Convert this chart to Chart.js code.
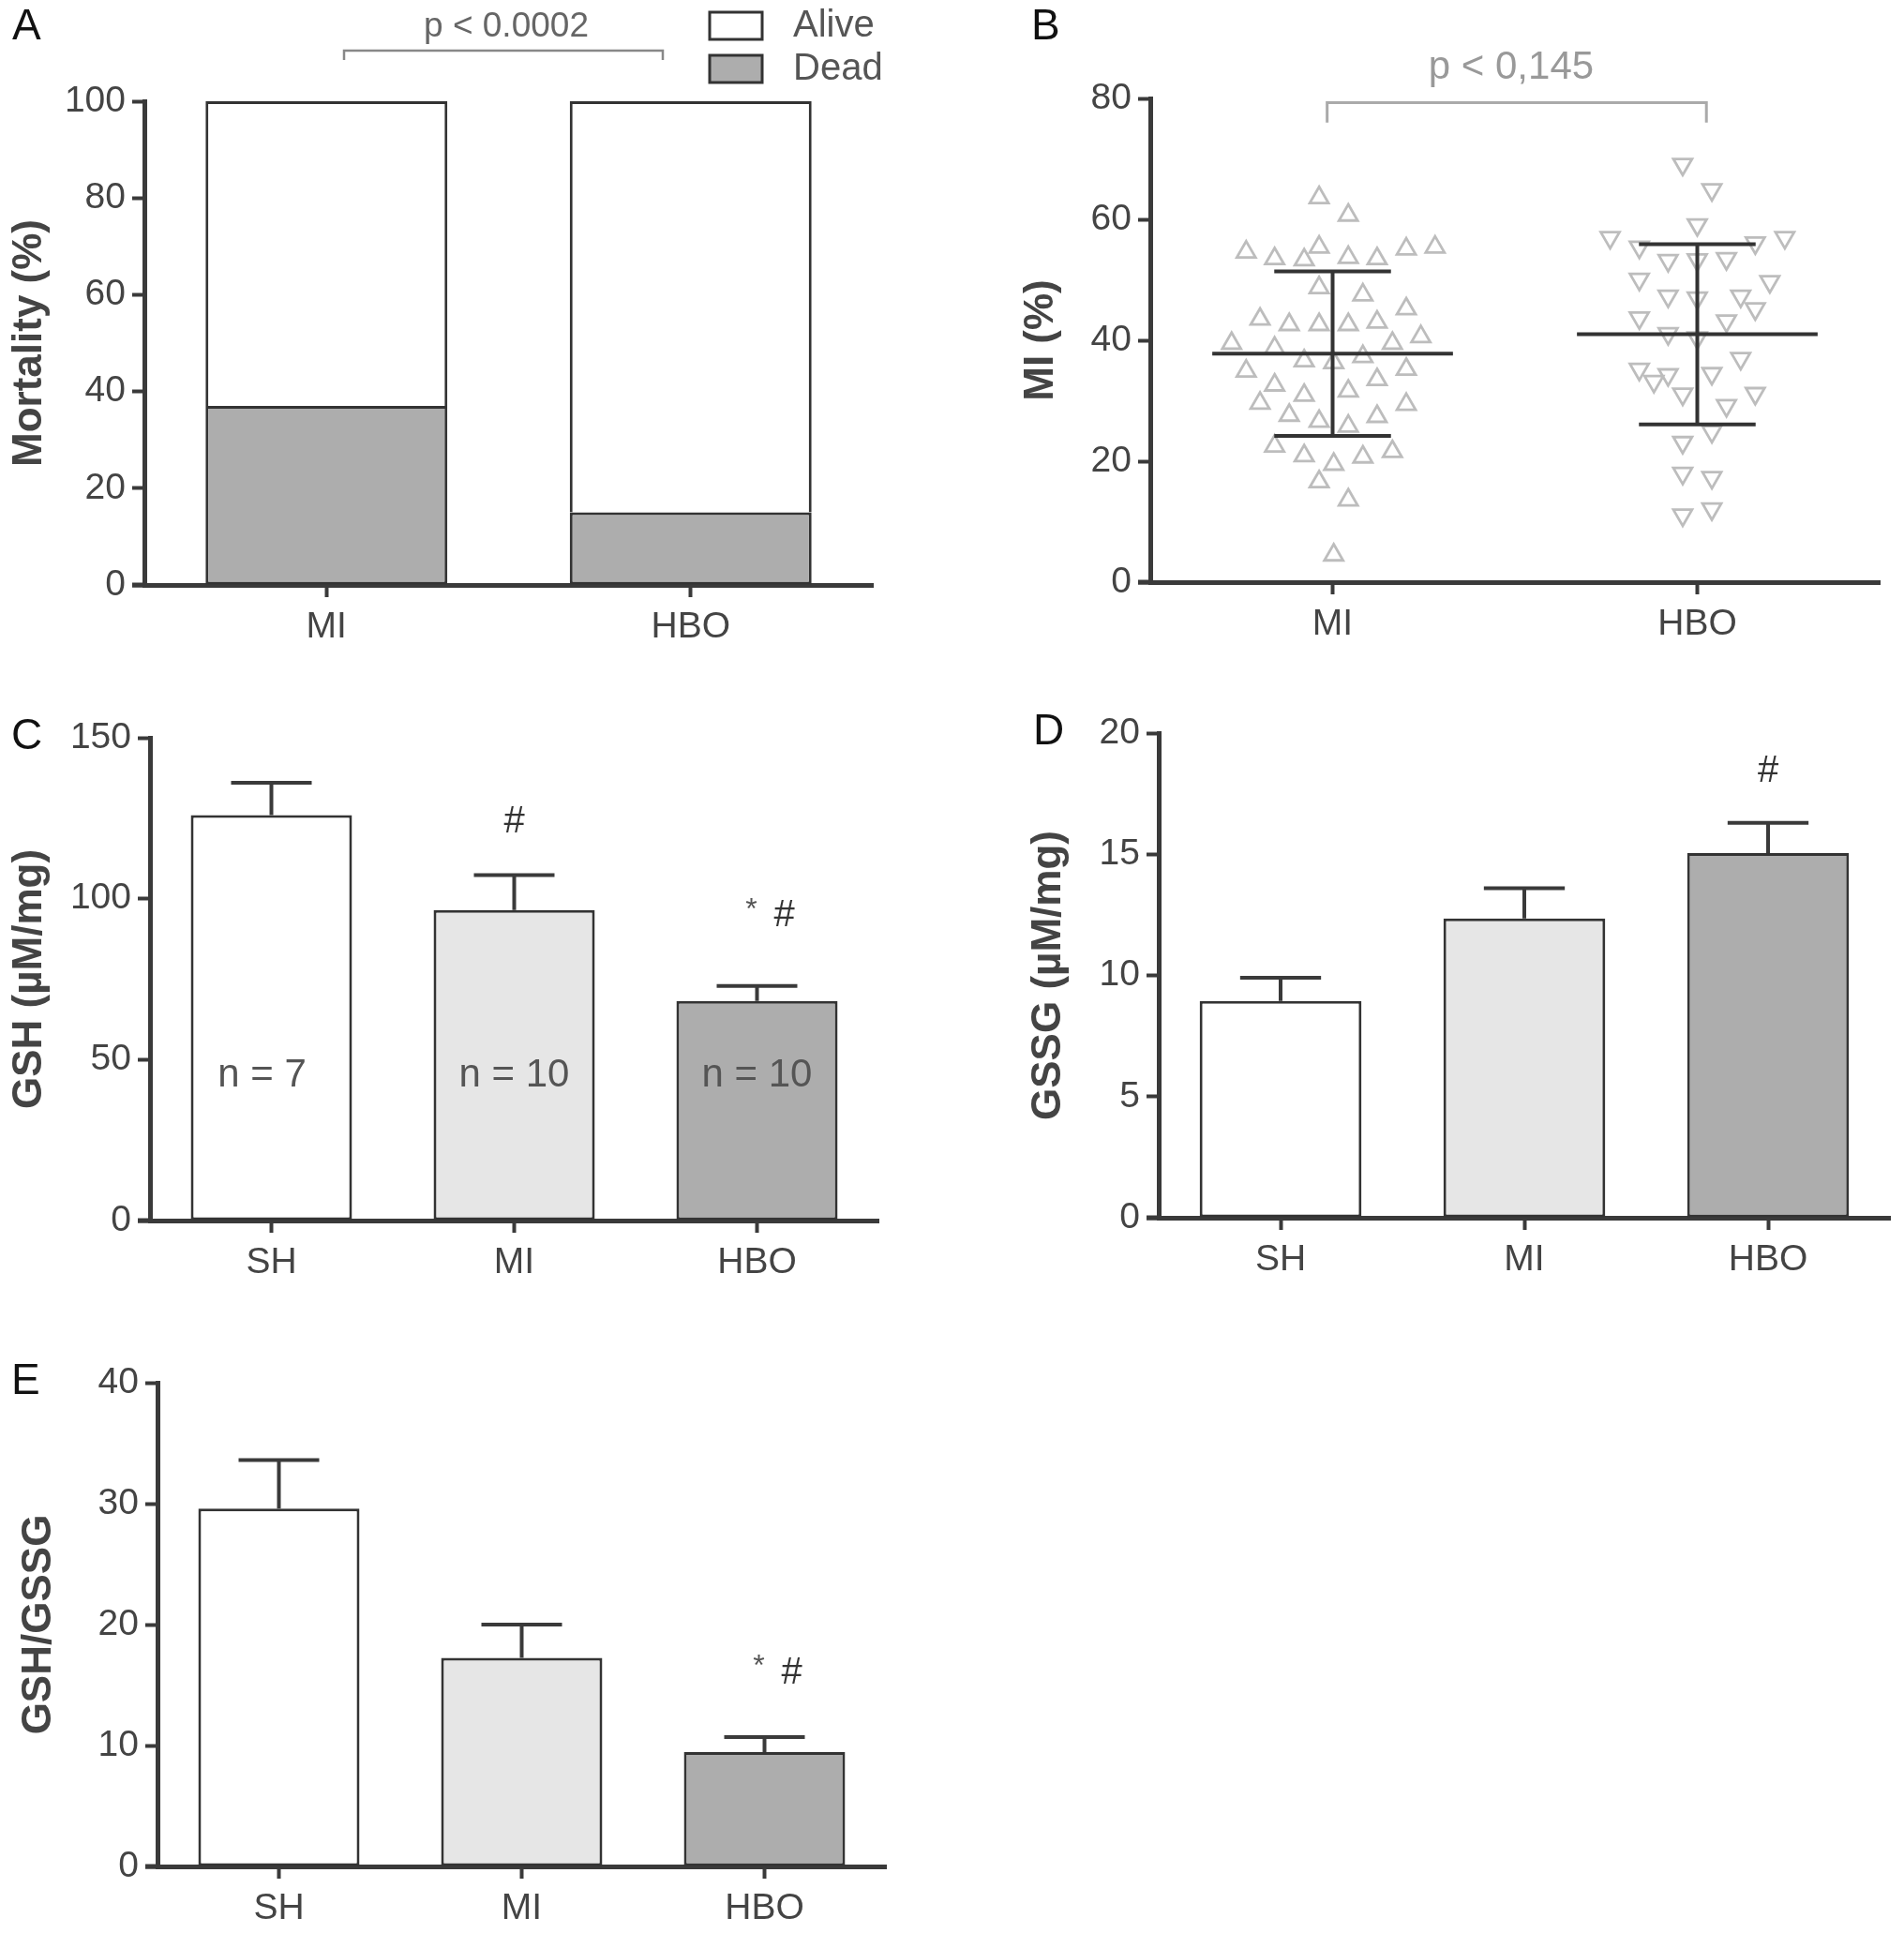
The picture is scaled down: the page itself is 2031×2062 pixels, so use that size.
<!DOCTYPE html>
<html>
<head>
<meta charset="utf-8">
<script src="https://cdn.jsdelivr.net/npm/chart.js@4.4.1/dist/chart.umd.min.js"></script>
<style>
  body { margin: 0; background: #fff; width: 2031px; height: 2062px; position: relative; overflow: hidden; }
  canvas { position: absolute; }
</style>
</head>
<body>
<canvas id="cA"></canvas>
<canvas id="cB"></canvas>
<canvas id="cC"></canvas>
<canvas id="cD"></canvas>
<canvas id="cE"></canvas>
<script>
// ---- A: mortality ----
const mortGroups = ['MI', 'HBO'];
const deadPct = [37, 15];
const alivePct = [63, 85];

// ---- B: infarct size per animal (x = group index + jitter) ----
const infarctGroups = ['MI', 'HBO'];
const miX = [0.963, 1.043, 0.763, 0.841, 0.922, 0.963, 1.043, 1.122, 1.202, 1.281,
             0.963, 1.083, 1.202, 0.801, 0.881, 0.963, 1.043, 1.122, 0.723, 0.841,
             1.164, 1.242, 0.922, 1.003, 1.083, 0.763, 1.202, 0.841, 1.043, 1.122,
             0.922, 0.801, 1.202, 0.881, 0.963, 1.043, 1.122, 0.841, 0.922, 1.003,
             1.083, 1.164, 0.963, 1.043, 1.003];
const miY = [63.6, 60.7, 54.6, 53.5, 53.3, 55.4, 53.7, 53.5, 55.1, 55.4,
             48.7, 47.5, 45.2, 43.5, 42.6, 42.6, 42.6, 43.0, 39.5, 38.7,
             39.5, 40.6, 36.6, 36.3, 37.3, 34.9, 35.2, 32.6, 31.6, 33.5,
             30.9, 29.6, 29.4, 27.6, 26.6, 25.8, 27.4, 22.5, 20.9, 19.5,
             20.7, 21.6, 16.6, 13.6, 4.5];
const hboX = [1.960, 2.040, 2.000, 1.761, 1.841, 2.159, 2.240, 1.920, 2.000, 2.080,
              1.841, 2.199, 1.920, 2.000, 2.119, 2.159, 1.841, 2.080, 1.920, 2.000,
              2.119, 1.841, 1.920, 1.881, 2.040, 1.960, 2.159, 2.080, 2.040, 1.960,
              1.960, 2.040, 1.960, 2.040];
const hboY = [69.1, 64.9, 59.1, 57.0, 55.4, 56.1, 57.0, 53.2, 53.3, 53.5,
              50.1, 49.7, 47.3, 47.0, 47.3, 45.2, 43.7, 43.2, 41.1, 40.4,
              37.0, 35.2, 34.3, 33.2, 34.5, 31.1, 31.2, 29.2, 24.9, 23.1,
              18.0, 17.3, 11.1, 12.1];
const infarctMean = [37.8, 41.0];
const infarctSD = [13.6, 14.9];

// ---- C-E: glutathione ----
const groups = ['SH', 'MI', 'HBO'];
const groupN = [7, 10, 10];
const gshMean = [126, 96.5, 68.2];
const gshErr = [10, 10.8, 4.7];
const gssgMean = [8.95, 12.35, 15.05];
const gssgErr = [0.95, 1.25, 1.25];
const ratioMean = [29.6, 17.25, 9.45];
const ratioErr = [4.0, 2.75, 1.25];

const FONT = '"Liberation Sans", Arial, Helvetica, sans-serif';
const AXIS = '#3a3a3a';
const TXT = '#444';
const FILLS = ['#ffffff', '#e6e6e6', '#adadad'];
const XH = 70;

Chart.defaults.font.family = FONT;
Chart.defaults.animation = false;

// place canvas and work out padding so the plot area lands where it does in the figure
function setup(id, box, area, titleX) {
  const cv = document.getElementById(id);
  cv.width = box.w; cv.height = box.h;
  cv.style.left = box.x + 'px'; cv.style.top = box.y + 'px';
  cv.style.width = box.w + 'px'; cv.style.height = box.h + 'px';
  const padL = titleX - box.x - 22;
  return {
    ctx: cv,
    padding: { left: padL, top: area.t - box.y, right: box.x + box.w - area.r, bottom: box.y + box.h - area.b - XH },
    yw: area.l - box.x - padL
  };
}

function yAxis(min, max, step, title, yw) {
  return {
    min: min, max: max,
    border: { display: true, color: AXIS, width: 5 },
    grid: { drawOnChartArea: false, drawTicks: true, tickLength: 13, tickWidth: 4, tickColor: AXIS },
    ticks: { stepSize: step, color: TXT, font: { size: 39 }, padding: 7 },
    title: { display: true, text: title, color: TXT, font: { size: 44, weight: 'bold', lineHeight: 1 }, padding: 0 },
    afterFit: s => { s.width = yw; }
  };
}

function xAxis(extra) {
  return Object.assign({
    border: { display: true, color: AXIS, width: 5 },
    grid: { offset: false, drawOnChartArea: false, drawTicks: true, tickLength: 13, tickWidth: 4, tickColor: AXIS },
    ticks: { color: TXT, font: { size: 39 }, padding: 9 },
    afterFit: s => { s.height = XH; }
  }, extra || {});
}

function decor(fn) {
  return { id: 'decor', afterDraw: chart => { const c = chart.ctx; c.save(); fn(chart, c); c.restore(); } };
}

function text(c, s, x, y, size, color, align, weight) {
  c.font = (weight || 'normal') + ' ' + size + 'px ' + FONT;
  c.fillStyle = color;
  c.textAlign = align || 'center';
  c.textBaseline = 'middle';
  c.fillText(s, x, y);
}

function overhang(chart, c) {
  const a = chart.chartArea;
  c.strokeStyle = AXIS; c.lineWidth = 5;
  c.beginPath(); c.moveTo(a.left - 13, a.bottom); c.lineTo(a.left, a.bottom); c.stroke();
}

function errBars(chart, c, means, errs) {
  const y = chart.scales.y;
  c.strokeStyle = AXIS; c.lineWidth = 4;
  chart.getDatasetMeta(0).data.forEach((bar, i) => {
    const top = y.getPixelForValue(means[i] + errs[i]);
    const half = bar.width * 0.25;
    c.beginPath();
    c.moveTo(bar.x, bar.y); c.lineTo(bar.x, top);
    c.moveTo(bar.x - half, top); c.lineTo(bar.x + half, top);
    c.stroke();
  });
}

function starHash(c, bar, y) {
  text(c, '*', bar.x - 6, y - 6, 32, '#555');
  text(c, '#', bar.x + 29, y, 40, '#333');
}

// ---------- A ----------
const fA = setup('cA', { x: 0, y: 0, w: 1000, h: 700 }, { l: 154, t: 108, r: 931, b: 624 }, 32);
new Chart(fA.ctx, {
  type: 'bar',
  data: {
    labels: mortGroups,
    datasets: [
      { label: 'Dead', data: deadPct, backgroundColor: FILLS[2], borderSkipped: false },
      { label: 'Alive', data: alivePct, backgroundColor: FILLS[0], borderSkipped: 'start' }
    ]
  },
  options: {
    responsive: false,
    layout: { padding: fA.padding },
    datasets: { bar: { borderColor: '#333', borderWidth: 3, categoryPercentage: 1, barPercentage: 0.664 } },
    plugins: { legend: { display: false }, tooltip: { enabled: false } },
    scales: {
      x: xAxis({ stacked: true }),
      y: Object.assign(yAxis(0, 100, 20, 'Mortality (%)', fA.yw), { stacked: true })
    }
  },
  plugins: [decor((chart, c) => {
    overhang(chart, c);
    text(c, 'A', 13, 29, 46, '#111', 'left');
    // legend
    const ds = chart.data.datasets;
    [ds[1], ds[0]].forEach((d, i) => {
      const top = 13 + i * 46;
      c.fillStyle = d.backgroundColor; c.strokeStyle = '#333'; c.lineWidth = 3;
      c.fillRect(757, top, 56, 29); c.strokeRect(757, top, 56, 29);
      text(c, d.label, 846, top + 15, 40, '#555', 'left');
    });
    // significance bracket
    c.strokeStyle = '#888'; c.lineWidth = 2.5;
    c.beginPath(); c.moveTo(367, 64); c.lineTo(367, 54); c.lineTo(707, 54); c.lineTo(707, 64); c.stroke();
    text(c, 'p < 0.0002', 540, 29, 37, '#666');
  })]
});

// ---------- B ----------
const fB = setup('cB', { x: 1090, y: 0, w: 941, h: 700 }, { l: 1227, t: 105, r: 2005, b: 621 }, 1111);
const pts = (xs, ys) => xs.map((x, i) => ({ x: x, y: ys[i] }));
new Chart(fB.ctx, {
  type: 'scatter',
  data: {
    datasets: [
      { label: 'MI', data: pts(miX, miY), pointStyle: 'triangle', pointRotation: 0 },
      { label: 'HBO', data: pts(hboX, hboY), pointStyle: 'triangle', pointRotation: 180 }
    ]
  },
  options: {
    responsive: false,
    layout: { padding: fB.padding },
    datasets: { scatter: { pointRadius: 11.5, pointBorderWidth: 2.8, pointBorderColor: '#bdbdbd', pointBackgroundColor: 'rgba(255,255,255,0)' } },
    plugins: { legend: { display: false }, tooltip: { enabled: false } },
    scales: {
      x: xAxis({
        type: 'linear', min: 0.5, max: 2.5,
        afterBuildTicks: s => { s.ticks = infarctGroups.map((g, i) => ({ value: i + 1 })); },
        ticks: { color: TXT, font: { size: 39 }, padding: 9, callback: v => infarctGroups[v - 1] }
      }),
      y: yAxis(0, 80, 20, 'MI (%)', fB.yw)
    }
  },
  plugins: [decor((chart, c) => {
    overhang(chart, c);
    text(c, 'B', 10, 29, 46, '#111', 'left');
    const xs = chart.scales.x, ys = chart.scales.y;
    c.strokeStyle = '#333'; c.lineWidth = 4;
    infarctMean.forEach((m, i) => {
      const g = i + 1, sd = infarctSD[i];
      c.beginPath();
      c.moveTo(xs.getPixelForValue(g - 0.33), ys.getPixelForValue(m));
      c.lineTo(xs.getPixelForValue(g + 0.33), ys.getPixelForValue(m));
      c.moveTo(xs.getPixelForValue(g), ys.getPixelForValue(m - sd));
      c.lineTo(xs.getPixelForValue(g), ys.getPixelForValue(m + sd));
      [m - sd, m + sd].forEach(v => {
        c.moveTo(xs.getPixelForValue(g - 0.16), ys.getPixelForValue(v));
        c.lineTo(xs.getPixelForValue(g + 0.16), ys.getPixelForValue(v));
      });
      c.stroke();
    });
    c.strokeStyle = '#aaa'; c.lineWidth = 3;
    const bx1 = xs.getPixelForValue(0.985), bx2 = xs.getPixelForValue(2.025);
    const by1 = ys.getPixelForValue(79.3), by2 = ys.getPixelForValue(76);
    c.beginPath(); c.moveTo(bx1, by2); c.lineTo(bx1, by1); c.lineTo(bx2, by1); c.lineTo(bx2, by2); c.stroke();
    text(c, 'p < 0,145', (bx1 + bx2) / 2 - 6, 72, 42, '#999');
  })]
});

// ---------- C, D, E ----------
function barPanel(id, box, area, titleX, letter, means, errs, yMax, step, title, marks) {
  const f = setup(id, box, area, titleX);
  new Chart(f.ctx, {
    type: 'bar',
    data: { labels: groups, datasets: [{ data: means, backgroundColor: FILLS }] },
    options: {
      responsive: false,
      layout: { padding: f.padding },
      datasets: { bar: { borderColor: '#333', borderWidth: 3, borderSkipped: false, categoryPercentage: 1, barPercentage: 0.664 } },
      plugins: { legend: { display: false }, tooltip: { enabled: false } },
      scales: { x: xAxis(), y: yAxis(0, yMax, step, title, f.yw) }
    },
    plugins: [decor((chart, c) => {
      overhang(chart, c);
      text(c, letter, 12, area.t - box.y - 1, 46, '#111', 'left');
      errBars(chart, c, means, errs);
      marks(chart, c, chart.getDatasetMeta(0).data, chart.scales.y);
    })]
  });
}

barPanel('cC', { x: 0, y: 740, w: 1000, h: 640 }, { l: 160, t: 787, r: 937, b: 1302 }, 32, 'C',
  gshMean, gshErr, 150, 50, 'GSH (\u00b5M/mg)', (chart, c, bars, y) => {
    bars.forEach((b, i) => text(c, 'n = ' + groupN[i], b.x + (i === 0 ? -10 : 0), y.getPixelForValue(44.9), 42, '#555'));
    text(c, '#', bars[1].x, y.getPixelForValue(123.8), 40, '#333');
    starHash(c, bars[2], y.getPixelForValue(94.7));
  });

barPanel('cD', { x: 1090, y: 740, w: 941, h: 640 }, { l: 1236, t: 782, r: 2016, b: 1299 }, 1119, 'D',
  gssgMean, gssgErr, 20, 5, 'GSSG (\u00b5M/mg)', (chart, c, bars, y) => {
    text(c, '#', bars[2].x, y.getPixelForValue(18.4), 40, '#333');
  });

barPanel('cE', { x: 0, y: 1420, w: 1000, h: 642 }, { l: 168, t: 1475, r: 945, b: 1991 }, 42, 'E',
  ratioMean, ratioErr, 40, 10, 'GSH/GSSG', (chart, c, bars, y) => {
    starHash(c, bars[2], y.getPixelForValue(16.0));
  });
</script>
</body>
</html>
